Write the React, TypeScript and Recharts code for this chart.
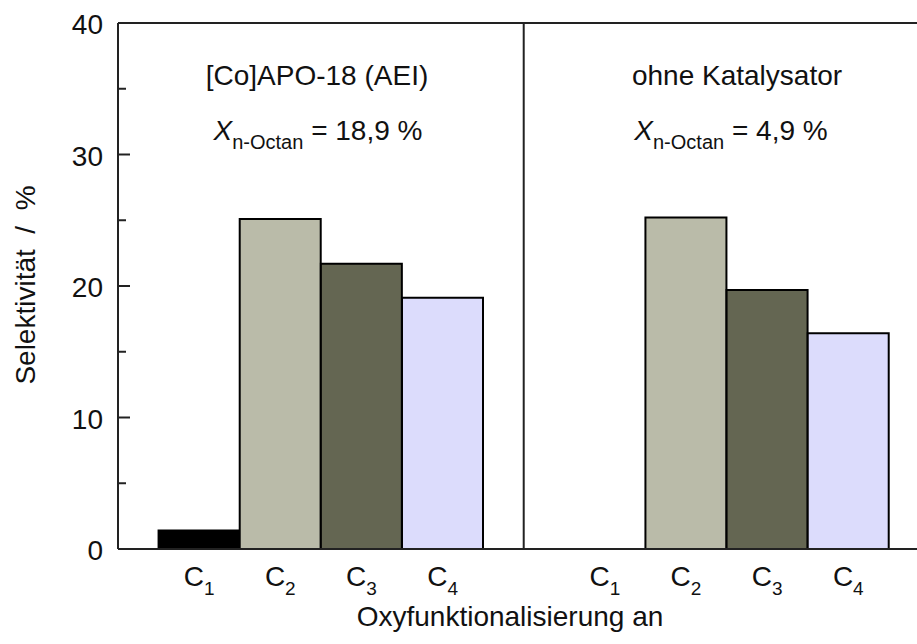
import React from 'react';
import { BarChart, Bar, XAxis, YAxis, Cell, ReferenceLine, Customized } from 'recharts';

const carbons = ['1', '2', '3', '4'];
const coApo18 = [1.4, 25.1, 21.7, 19.1];
const ohneKatalysator = [0, 25.2, 19.7, 16.4];
const barColors = ['#000000', '#babba9', '#646652', '#dcdcfc'];
const yTicks = [0, 5, 10, 15, 20, 25, 30, 35, 40];
const panelTitles = ['[Co]APO-18 (AEI)', 'ohne Katalysator'];
const conversions = ['18,9', '4,9'];

const FONT = '"Liberation Sans", Arial, sans-serif';
const AXIS = '#222';

const data = [
  ...coApo18.map((v, i) => ({ pos: i + 1, label: carbons[i], value: v, color: barColors[i] })),
  ...ohneKatalysator.map((v, i) => ({ pos: i + 6, label: carbons[i], value: v, color: barColors[i] })),
];
const xTicks = data.map((d) => d.pos);

const LeftTick = (props: any) => {
  const { x, y, payload } = props;
  const ax = x + 10;
  const major = payload.value % 10 === 0;
  return (
    <g>
      <line x1={ax} x2={ax + (major ? 12 : 8)} y1={y} y2={y} stroke={AXIS} strokeWidth={2} />
      {major && (
        <text x={ax - 15} y={y + 11} textAnchor="end" fontSize={28} fontFamily={FONT} fill="#111">
          {payload.value}
        </text>
      )}
    </g>
  );
};

const RightTick = (props: any) => {
  const { x, y, payload } = props;
  const ax = x - 10;
  const major = payload.value % 10 === 0;
  return <line x1={ax} x2={ax - (major ? 12 : 8)} y1={y} y2={y} stroke={AXIS} strokeWidth={2} />;
};

const CarbonTick = (props: any) => {
  const { x, y, payload } = props;
  const entry = data.find((d) => d.pos === payload.value);
  return (
    <text x={x} y={y + 37} textAnchor="middle" fontFamily={FONT} fill="#111">
      <tspan fontSize={28}>C</tspan>
      <tspan fontSize={19} dy={9}>{entry ? entry.label : ''}</tspan>
    </text>
  );
};

const Overlay = () => (
  <g fontFamily={FONT} fill="#111">
    {panelTitles.map((t, i) => (
      <text key={t} x={i === 0 ? 317 : 737} y={85} textAnchor="middle" fontSize={28}>
        {t}
      </text>
    ))}
    {conversions.map((c, i) => (
      <text key={c} x={i === 0 ? 318 : 731} y={140} textAnchor="middle" fontSize={28}>
        <tspan fontStyle="italic">X</tspan>
        <tspan fontSize={20} dy={9}>n-Octan</tspan>
        <tspan dy={-9}>{` = ${c} %`}</tspan>
      </text>
    ))}
    <text x={510} y={626} textAnchor="middle" fontSize={28}>
      Oxyfunktionalisierung an
    </text>
    <text
      x={35}
      y={285}
      textAnchor="middle"
      fontSize={28}
      transform="rotate(-90 35 285)"
      style={{ whiteSpace: 'pre' }}
    >
      {'Selektivität  /  %'}
    </text>
  </g>
);

export default function App() {
  return (
    <div style={{ position: 'fixed', left: 0, top: 0, width: 917, height: 644, overflow: 'hidden', background: '#fff' }}>
      <BarChart width={938} height={644} data={data} margin={{ top: 23, right: 0, bottom: 0, left: 0 }}>
        <XAxis
          dataKey="pos"
          type="number"
          domain={[0, 9.97]}
          allowDataOverflow
          ticks={xTicks}
          interval={0}
          tickLine={false}
          tickSize={0}
          tickMargin={0}
          height={95}
          axisLine={{ stroke: AXIS, strokeWidth: 2 }}
          tick={<CarbonTick />}
        />
        <YAxis
          yAxisId="left"
          domain={[0, 40]}
          ticks={yTicks}
          interval={0}
          width={118}
          tickLine={false}
          tickSize={0}
          tickMargin={10}
          axisLine={{ stroke: AXIS, strokeWidth: 2 }}
          tick={<LeftTick />}
        />
        <YAxis
          yAxisId="right"
          orientation="right"
          domain={[0, 40]}
          ticks={yTicks}
          interval={0}
          width={11}
          tickLine={false}
          tickSize={0}
          tickMargin={10}
          axisLine={{ stroke: AXIS, strokeWidth: 2 }}
          tick={<RightTick />}
        />
        <ReferenceLine yAxisId="left" y={40} stroke={AXIS} strokeWidth={2} />
        <Bar
          yAxisId="left"
          dataKey="value"
          barSize={81}
          stroke="#000"
          strokeWidth={2}
          isAnimationActive={false}
        >
          {data.map((d) => (
            <Cell key={d.pos} fill={d.color} />
          ))}
        </Bar>
        <ReferenceLine yAxisId="left" x={5} stroke={AXIS} strokeWidth={2} />
        <Customized component={Overlay} />
      </BarChart>
    </div>
  );
}
